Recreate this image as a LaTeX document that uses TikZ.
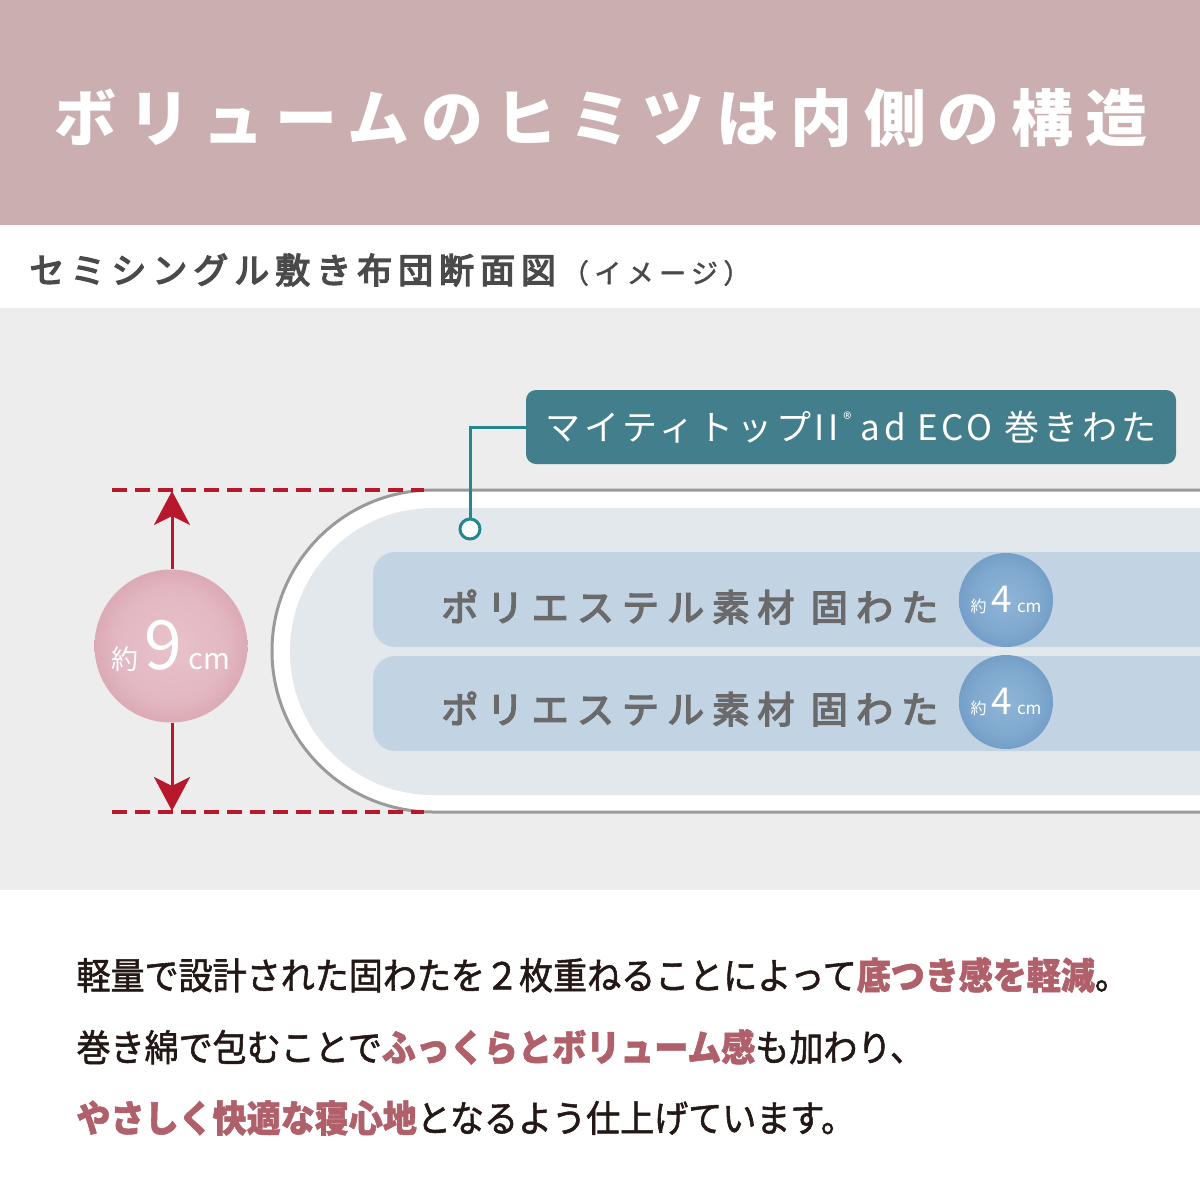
\documentclass[tikz,border=0pt]{standalone}
\usepackage{fontspec}
\setmainfont{Noto Sans CJK JP}
\usetikzlibrary{calc}
\usetikzlibrary{arrows.meta}

\definecolor{headpink}{HTML}{CBAEB0}
\definecolor{panelgray}{HTML}{EDEDED}
\definecolor{futonline}{HTML}{9A9A9A}
\definecolor{futoninner}{HTML}{E3E8ED}
\definecolor{layerblue}{HTML}{C2D3E3}
\definecolor{tealbox}{HTML}{437E8C}
\definecolor{tealline}{HTML}{24868E}
\definecolor{dimred}{HTML}{B8182C}
\definecolor{accent}{HTML}{B0606A}
\definecolor{subgray}{HTML}{4A4A4A}
\definecolor{layertext}{HTML}{6A6A6A}
\definecolor{bodyblack}{HTML}{231815}

\pgfdeclareradialshading{pinkball}{\pgfpoint{0bp}{0bp}}{rgb(0bp)=(0.91,0.76,0.79); rgb(18bp)=(0.89,0.72,0.76); rgb(50bp)=(0.75,0.47,0.51)}
\pgfdeclareradialshading{blueball}{\pgfpoint{0bp}{0bp}}{rgb(0bp)=(0.56,0.71,0.84); rgb(18bp)=(0.50,0.66,0.81); rgb(50bp)=(0.29,0.48,0.68)}

\begin{document}
\begin{tikzpicture}[x=1pt, y=-1pt,
    dimarrow/.style={draw=dimred, line width=3pt, -{Stealth[length=34pt, width=36pt, inset=9pt]}},
    dimdash/.style={draw=dimred, line width=4pt, dash pattern=on 15pt off 8pt},
    layer/.style={fill=layerblue, rounded corners=22pt},
    layerlabel/.style={anchor=west, text=layertext, font=\fontsize{37}{37}\selectfont\addfontfeature{LetterSpace=22, FakeBold=4}},
    ballmark/.style={circle, inner sep=0pt, text=white},
    tagbox/.style={fill=tealbox, rounded corners=10pt, minimum width=650pt, minimum height=74pt, inner sep=0pt, text=white,
      font=\fontsize{35}{35}\selectfont\addfontfeature{LetterSpace=11}},
    bodyline/.style={anchor=west, text=bodyblack, font=\fontsize{37}{37}\selectfont\addfontfeature{FakeStretch=0.92, FakeBold=1.5}}]
  \useasboundingbox (0,0) rectangle (1200,1200);
  \clip (0,0) rectangle (1200,1200);
  \fill[white] (0,0) rectangle (1200,1200);

  % header
  \fill[headpink] (0,0) rectangle (1200,225);
  \node[text=white, font=\bfseries\fontsize{62}{62}\selectfont\addfontfeature{LetterSpace=19}] (title) at (601,118) {ボリュームのヒミツは内側の構造};
  \node[anchor=west, text=subgray] (subtitle) at (26,270)
    {{\fontsize{35}{35}\selectfont\addfontfeature{LetterSpace=17, FakeBold=4}セミシングル敷き布団断面図}\hspace{6pt}{\fontsize{27}{27}\selectfont\addfontfeature{LetterSpace=20, FakeBold=1.5}（イメージ）}};

  % cross section
  \fill[panelgray] (0,308) rectangle (1200,890);
  \draw[futonline, line width=3pt, fill=white, rounded corners=161pt] (272,490) rectangle (1500,812);
  \fill[futoninner, rounded corners=143pt] (290,508) rectangle (1500,795);
  \fill[layer] (373,552) rectangle (1500,647);
  \fill[layer] (373,656) rectangle (1500,751);
  \node[layerlabel] (upper) at (438,607) {ポリエステル素材 固わた};
  \node[layerlabel] (lower) at (438,709) {ポリエステル素材 固わた};
  \node[ballmark, shading=blueball, minimum size=94pt] (upperball) at (1006,600)
    {{\fontsize{16}{16}\selectfont 約}\hspace{5pt}{\fontsize{37}{37}\selectfont 4}\hspace{5pt}{\fontsize{17}{17}\selectfont cm}};
  \node[ballmark, shading=blueball, minimum size=94pt] (lowerball) at (1006,702)
    {{\fontsize{16}{16}\selectfont 約}\hspace{5pt}{\fontsize{37}{37}\selectfont 4}\hspace{5pt}{\fontsize{17}{17}\selectfont cm}};

  % thickness
  \draw[dimdash] (112,490) -- (424,490);
  \draw[dimdash] (112,812) -- (424,812);
  \coordinate (dimtop) at (172,491);
  \coordinate (dimbot) at (172,811);
  \node[ballmark, shading=pinkball, minimum size=153pt] (height) at (171,646)
    {{\fontsize{27}{27}\selectfont 約}\hspace{6pt}{\fontsize{68}{68}\selectfont 9}\hspace{6pt}{\fontsize{29}{29}\selectfont cm}};
  \draw[dimarrow] ($(height.north)+(1,0)$) -- (dimtop);
  \draw[dimarrow] ($(height.south)+(1,0)$) -- (dimbot);

  % wrapping label
  \node[tagbox] (tag) at (851,427)
    {マイティトップI\hspace{3pt}I\hspace{5pt}\raisebox{0.42em}{\fontsize{17}{17}\selectfont ®}\hspace{9pt}ad ECO 巻きわた};
  \node[circle, draw=tealline, fill=white, line width=3pt, minimum size=20pt, inner sep=0pt] (dot) at (470,529) {};
  \draw[tealline, line width=3pt] (tag.west) -| (dot.north);

  % text
  \node[bodyline] (lineA) at (73,975)
    {軽量で設計された固わたを２枚重ねることによって\textcolor{accent}{\bfseries 底つき感を軽減}。};
  \node[bodyline] (lineB) at (73,1047)
    {巻き綿で包むことで\textcolor{accent}{\bfseries ふっくらとボリューム感}も加わり、};
  \node[bodyline] (lineC) at (73,1118)
    {\textcolor{accent}{\bfseries やさしく快適な寝心地}となるよう仕上げています。};
\end{tikzpicture}
\end{document}
